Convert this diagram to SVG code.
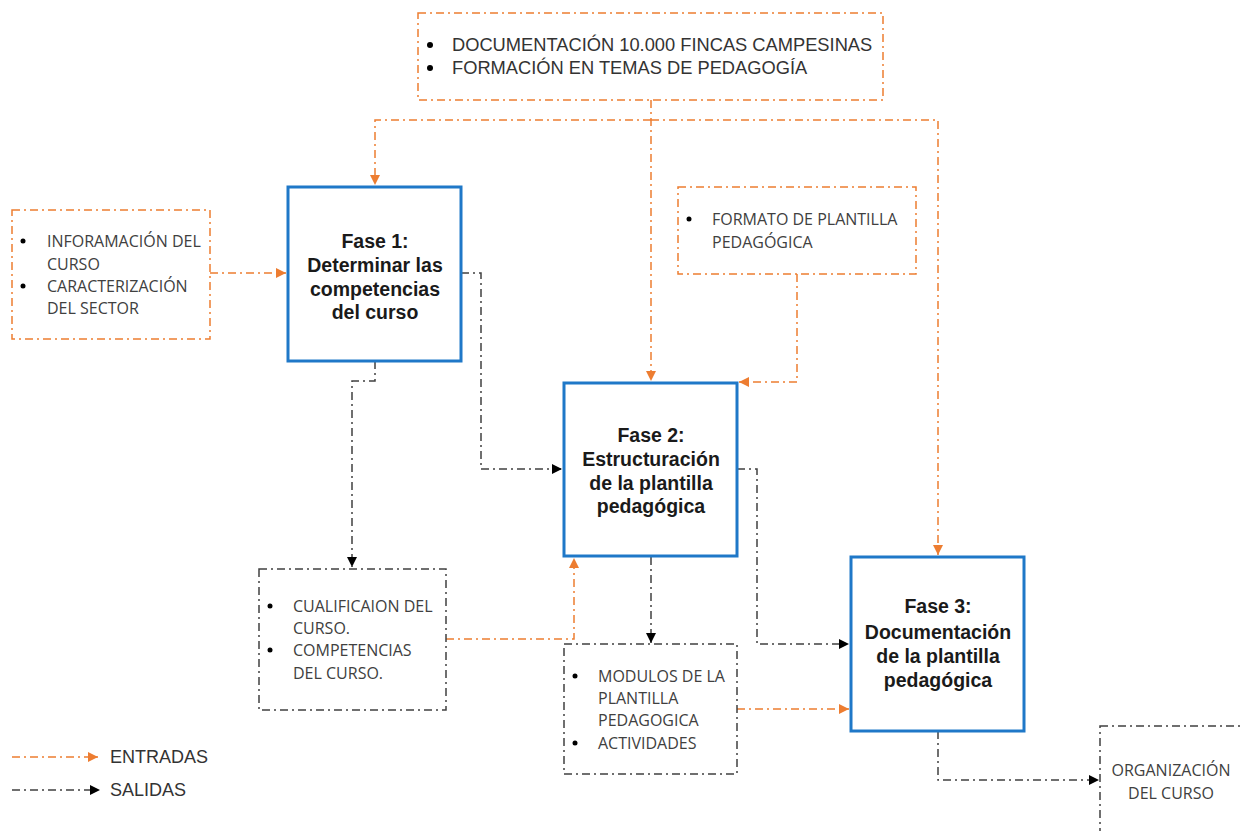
<svg xmlns="http://www.w3.org/2000/svg" width="1241" height="831" viewBox="0 0 1241 831">
<style>
.bg{fill:#ffffff}
.in{fill:none;stroke:#ED7D31;stroke-width:1.5;stroke-dasharray:8,4,2,4}
.out{fill:none;stroke:#404040;stroke-width:1.5;stroke-dasharray:8,4,2,4}
.boxo{fill:#ffffff;stroke:#ED7D31;stroke-width:1.5;stroke-dasharray:8,4,2,4}
.boxk{fill:#ffffff;stroke:#404040;stroke-width:1.5;stroke-dasharray:8,4,2,4}
.fase{fill:#ffffff;stroke:#1F78C8;stroke-width:3}
.ft{font-family:"Liberation Sans",Arial,sans-serif;font-weight:bold;font-size:19.5px;fill:#1a1a1a;text-anchor:middle}
.bt{font-family:"Open Sans","Noto Sans",sans-serif;font-size:16px;fill:#404040}
.tt{font-family:"Liberation Sans",Arial,sans-serif;font-size:18.3px;fill:#333333}
.lg{font-family:"Liberation Sans",Arial,sans-serif;font-size:18px;fill:#333333}
.dot{fill:#000000}
</style>
<defs>
<marker id="ao" viewBox="0 0 10 10" refX="10" refY="5" markerWidth="10" markerHeight="10" markerUnits="userSpaceOnUse" orient="auto"><path d="M0,0 L10,5 L0,10 Z" fill="#ED7D31"/></marker>
<marker id="ak" viewBox="0 0 10 10" refX="10" refY="5" markerWidth="10" markerHeight="10" markerUnits="userSpaceOnUse" orient="auto"><path d="M0,0 L10,5 L0,10 Z" fill="#000000"/></marker>
</defs>
<rect class="bg" x="0" y="0" width="1241" height="831"/>

<g id="connectors">
<polyline class="in" points="651,100 651,381" marker-end="url(#ao)"/>
<polyline class="in" points="651,120 375,120 375,185" marker-end="url(#ao)"/>
<polyline class="in" points="651,120 938,120 938,555" marker-end="url(#ao)"/>
<polyline class="in" points="210,273 286,273" marker-end="url(#ao)"/>
<polyline class="in" points="797,274 797,382 739,382" marker-end="url(#ao)"/>
<polyline class="in" points="446,639 574,639 574,558" marker-end="url(#ao)"/>
<polyline class="in" points="737,709 849,709" marker-end="url(#ao)"/>
<polyline class="out" points="461,273 481,273 481,469 562,469" marker-end="url(#ak)"/>
<polyline class="out" points="375,361 375,381 352,381 352,567" marker-end="url(#ak)"/>
<polyline class="out" points="651,557 651,643" marker-end="url(#ak)"/>
<polyline class="out" points="737,469 757,469 757,644 849,644" marker-end="url(#ak)"/>
<polyline class="out" points="938,731 938,780 1099,780" marker-end="url(#ak)"/>
</g>

<g id="top-inputs">
<rect class="boxo" x="418" y="13" width="465" height="87"/>
<circle class="dot" cx="430" cy="45" r="3"/>
<circle class="dot" cx="430" cy="68" r="3"/>
<text class="tt" x="452" y="51">DOCUMENTACIÓN 10.000 FINCAS CAMPESINAS</text>
<text class="tt" x="452" y="74">FORMACIÓN EN TEMAS DE PEDAGOGÍA</text>
</g>

<g id="info-curso">
<rect class="boxo" x="12" y="210" width="198" height="129"/>
<circle class="dot" cx="23" cy="241" r="2.5"/>
<circle class="dot" cx="23" cy="286" r="2.5"/>
<text class="bt" x="47" y="247">INFORAMACIÓN DEL</text>
<text class="bt" x="47" y="270">CURSO</text>
<text class="bt" x="47" y="292">CARACTERIZACIÓN</text>
<text class="bt" x="47" y="314">DEL SECTOR</text>
</g>

<g id="fase1">
<rect class="fase" x="288" y="187" width="173" height="174"/>
<text class="ft" x="375" y="248">Fase 1:</text>
<text class="ft" x="375" y="272">Determinar las</text>
<text class="ft" x="375" y="296">competencias</text>
<text class="ft" x="375" y="319">del curso</text>
</g>

<g id="formato">
<rect class="boxo" x="678" y="187" width="238" height="87"/>
<circle class="dot" cx="689" cy="219" r="2.5"/>
<text class="bt" x="712" y="225">FORMATO DE PLANTILLA</text>
<text class="bt" x="712" y="248">PEDAGÓGICA</text>
</g>

<g id="fase2">
<rect class="fase" x="564" y="383" width="173" height="173"/>
<text class="ft" x="651" y="442">Fase 2:</text>
<text class="ft" x="651" y="466">Estructuración</text>
<text class="ft" x="651" y="490">de la plantilla</text>
<text class="ft" x="651" y="513">pedagógica</text>
</g>

<g id="cualificacion">
<rect class="boxk" x="259" y="569" width="187" height="141"/>
<circle class="dot" cx="270" cy="606" r="2.5"/>
<circle class="dot" cx="270" cy="650" r="2.5"/>
<text class="bt" x="293" y="612">CUALIFICAION DEL</text>
<text class="bt" x="293" y="634">CURSO.</text>
<text class="bt" x="293" y="656">COMPETENCIAS</text>
<text class="bt" x="293" y="679">DEL CURSO.</text>
</g>

<g id="modulos">
<rect class="boxk" x="564" y="644" width="173" height="130"/>
<circle class="dot" cx="575" cy="676" r="2.5"/>
<circle class="dot" cx="575" cy="743" r="2.5"/>
<text class="bt" x="598" y="682">MODULOS DE LA</text>
<text class="bt" x="598" y="704">PLANTILLA</text>
<text class="bt" x="598" y="726">PEDAGOGICA</text>
<text class="bt" x="598" y="749">ACTIVIDADES</text>
</g>

<g id="fase3">
<rect class="fase" x="851" y="557" width="173" height="174"/>
<text class="ft" x="938" y="613">Fase 3:</text>
<text class="ft" x="938" y="639">Documentación</text>
<text class="ft" x="938" y="663">de la plantilla</text>
<text class="ft" x="938" y="687">pedagógica</text>
</g>

<g id="organizacion">
<rect class="boxk" x="1100" y="726" width="160" height="120"/>
<text class="bt" x="1171" y="776" text-anchor="middle">ORGANIZACIÓN</text>
<text class="bt" x="1171" y="799" text-anchor="middle">DEL CURSO</text>
</g>

<g id="legend">
<line class="in" x1="12" y1="757" x2="98" y2="757" marker-end="url(#ao)"/>
<text class="lg" x="110" y="763">ENTRADAS</text>
<line class="out" x1="12" y1="790" x2="100" y2="790" marker-end="url(#ak)"/>
<text class="lg" x="110" y="796">SALIDAS</text>
</g>
</svg>
